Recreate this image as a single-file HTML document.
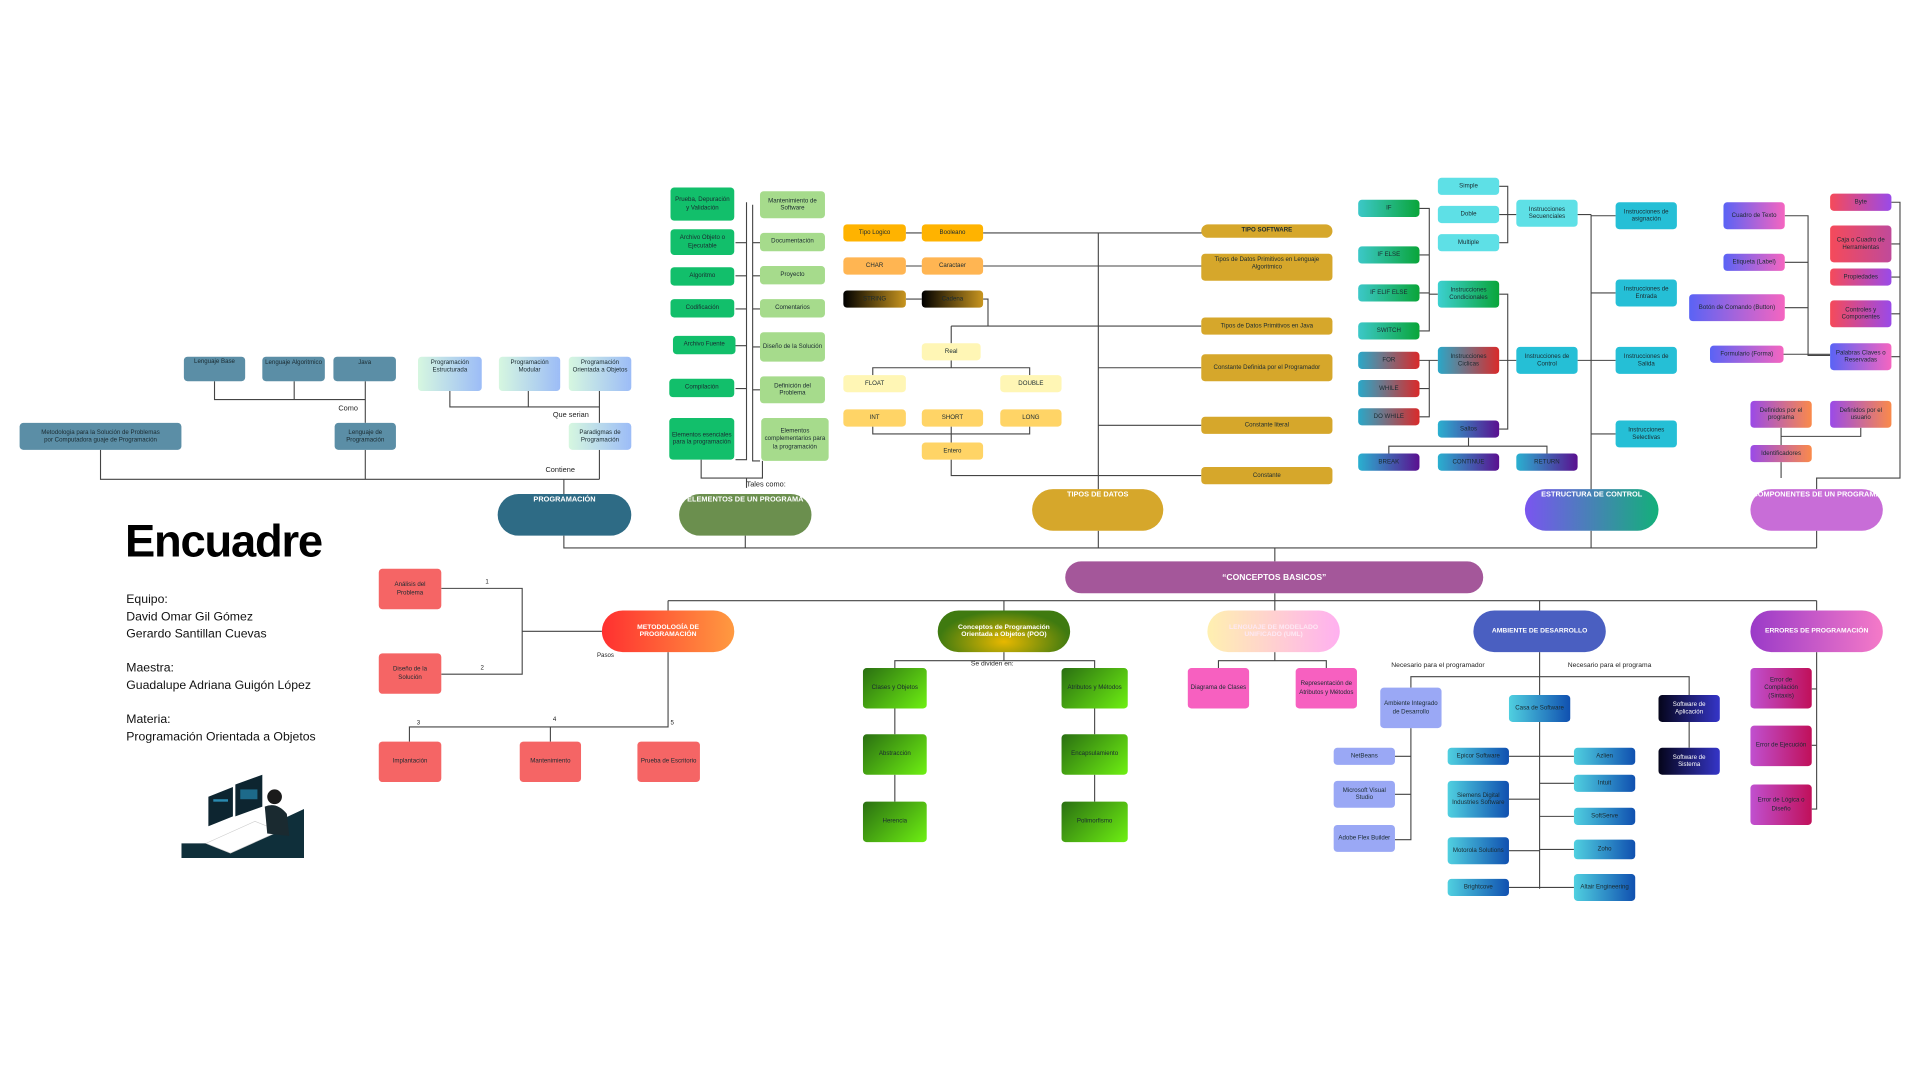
<!DOCTYPE html>
<html><head><meta charset="utf-8"><style>
html,body{margin:0;padding:0;background:#fff;width:1920px;height:1080px;overflow:hidden}
#w{position:absolute;left:0;top:0;width:1560px;height:878px;transform:scale(1.2258);transform-origin:0 0;font-family:"Liberation Sans",sans-serif}
svg{position:absolute;left:0;top:0}
.b{position:absolute;border-radius:3px;display:flex;align-items:center;justify-content:center;text-align:center;font-size:5px;line-height:1.25;color:#1a2a30;box-sizing:border-box;padding:1px 2px}
.t{align-items:flex-start;padding-top:2px}
.big{position:absolute;border-radius:17px;color:#fff;font-weight:bold;font-size:6px;text-align:center;display:flex;justify-content:center;align-items:flex-start;padding-top:2px;box-sizing:border-box}
.l{position:absolute;font-size:6px;color:#222;white-space:nowrap}
.pb{background:#5b8ea6}
.pg{background:linear-gradient(90deg,#d6f7e0,#9cbcf7)}
.dg{background:#12bf6b}
.lg{background:#a6db8c}
.gold{background:#d6a72b}
.cy{background:#5ee0e6}
.ct{background:#25bfd6}
.gg{background:linear-gradient(135deg,#2a6f12,#6ef012)}
.rd{background:#f56565}
</style></head><body><div id="w">
<svg width="1560" height="878" viewBox="0 0 1560 878" fill="none" stroke="#444" stroke-width="0.9">
<path d="M175 311V326H298M240 311V326M298 311V345"/>
<path d="M367 319V332H489M431 319V332M489 319V345"/>
<path d="M82 367V391H489M298 367V391M489 367V391M460 391V403"/>
<path d="M460 437V447H1482M608 437V447M896 433V447M1298 433V447M1482 433V447M1040 447V458"/>
<path d="M609 165V375H600M609 198H600M609 225H600M609 252H600M609 282H600M609 317H600"/>
<path d="M614 167V376H620M614 198H620M614 225H620M614 252H620M614 283H620M614 318H620"/>
<path d="M572 375V390H622V376M609 390V398"/>
<path d="M739 190H752M739 217H752M739 244H752M802 190H1000M802 217H1000M802 244H806V266H980M896 190V400M776 266H896M776 266V280M776 294V300H712V306M776 300H840V306M712 348V354H840V348M776 348V361M776 375V388H980M896 300H980M896 347H980"/>
<path d="M1158 170H1166V270H1158M1158 208H1166M1158 239H1166M1166 240H1173M1158 294H1166V340H1158M1158 317H1166M1166 294H1173M1223 152H1230V198H1223M1223 175H1237M1223 240H1230V350H1223M1223 294H1237M1287 175H1298M1287 294H1298M1298 175V400M1298 176H1318M1298 239H1318M1298 294H1318M1298 354H1318M1198 357V364H1133V370M1198 364H1262V370"/>
<path d="M1456 176H1475V290H1493M1456 214H1475M1456 251H1475M1455 289H1493M1543 165H1550V390H1482V399M1543 199H1550M1543 226H1550M1543 256H1550M1543 291H1550M1453 349V356H1518V349M1453 356V363M1453 377V390"/>
<path d="M1040 484V490M545 490H1482M545 490V498M819 490V498M1040 490V498M1256 490V498M1482 490V498"/>
<path d="M360 480H426V550H360M426 515H491M545 532V593H334V605M449 593V605"/>
<path d="M819 532V539H730V545M819 539H893V545M730 578V599M730 632V654M893 578V599M893 632V654"/>
<path d="M1040 532V539H994V545M1040 539H1082V545"/>
<path d="M1256 532V725M1151 561V552H1378V567M1151 594V685H1138M1151 617H1138M1151 648H1138M1231 617H1256M1231 652H1256M1231 694H1256M1231 724H1256M1256 617H1284M1256 639H1284M1256 666H1284M1256 693H1284M1256 724H1284M1378 589V610"/>
<path d="M1482 532V660H1478M1482 562H1478M1482 608H1478"/>
</svg>

<div class="b pb" style="left:150px;top:291px;width:50px;height:20px;align-items:flex-start">Lenguaje Base</div>
<div class="b pb t" style="left:214px;top:291px;width:51px;height:20px">Lenguaje Algoritmico</div>
<div class="b pb t" style="left:272px;top:291px;width:51px;height:20px">Java</div>
<div class="b pb" style="left:273px;top:345px;width:50px;height:22px">Lenguaje de Programación</div>
<div class="b pb" style="left:16px;top:345px;width:132px;height:22px">Metodologia para la Solución de Problemas<br>por Computadora guaje de Programación</div>
<div class="b pg t" style="left:341px;top:291px;width:52px;height:28px">Programación Estructurada</div>
<div class="b pg t" style="left:407px;top:291px;width:50px;height:28px">Programación Modular</div>
<div class="b pg t" style="left:464px;top:291px;width:51px;height:28px">Programación Orientada a Objetos</div>
<div class="b pg" style="left:464px;top:345px;width:51px;height:22px">Paradigmas de Programación</div>
<div class="l" style="left:276px;top:331px">Como</div>
<div class="l" style="left:451px;top:336px">Que serian</div>
<div class="l" style="left:445px;top:381px">Contiene</div>
<div class="big" style="left:406px;top:403px;width:109px;height:34px;background:#2e6b85">PROGRAMACIÓN</div>

<div class="b dg" style="left:547px;top:153px;width:52px;height:27px">Prueba, Depuración y Validación</div>
<div class="b dg" style="left:547px;top:187px;width:52px;height:21px">Archivo Objeto o Ejecutable</div>
<div class="b dg" style="left:547px;top:218px;width:52px;height:15px">Algoritmo</div>
<div class="b dg" style="left:547px;top:244px;width:52px;height:15px">Codificación</div>
<div class="b dg" style="left:549px;top:274px;width:51px;height:15px">Archivo Fuente</div>
<div class="b dg" style="left:546px;top:309px;width:53px;height:15px">Compilación</div>
<div class="b dg" style="left:546px;top:341px;width:53px;height:34px">Elementos esenciales para la programación</div>
<div class="b lg" style="left:620px;top:156px;width:53px;height:22px">Mantenimiento de Software</div>
<div class="b lg" style="left:620px;top:190px;width:53px;height:15px">Documentación</div>
<div class="b lg" style="left:620px;top:217px;width:53px;height:15px">Proyecto</div>
<div class="b lg" style="left:620px;top:244px;width:53px;height:15px">Comentarios</div>
<div class="b lg" style="left:620px;top:271px;width:53px;height:24px">Diseño de la Solución</div>
<div class="b lg" style="left:620px;top:307px;width:53px;height:22px">Definición del Problema</div>
<div class="b lg" style="left:621px;top:341px;width:55px;height:35px">Elementos complementarios para la programación</div>
<div class="l" style="left:609px;top:393px">Tales como:</div>
<div class="big" style="left:554px;top:403px;width:108px;height:34px;background:#6b8f4e">ELEMENTOS DE UN PROGRAMA</div>

<div class="b" style="left:688px;top:183px;width:51px;height:14px;background:#ffb300">Tipo Logico</div>
<div class="b" style="left:752px;top:183px;width:50px;height:14px;background:#ffb300">Booleano</div>
<div class="b" style="left:688px;top:210px;width:51px;height:14px;background:#ffb552">CHAR</div>
<div class="b" style="left:752px;top:210px;width:50px;height:14px;background:#ffb552">Caractaer</div>
<div class="b" style="left:688px;top:237px;width:51px;height:14px;background:linear-gradient(90deg,#000,#c8951f)">STRING</div>
<div class="b" style="left:752px;top:237px;width:50px;height:14px;background:linear-gradient(90deg,#000,#c8951f)">Cadena</div>
<div class="b" style="left:752px;top:280px;width:48px;height:14px;background:#fff6b5">Real</div>
<div class="b" style="left:688px;top:306px;width:51px;height:14px;background:#fff6b5">FLOAT</div>
<div class="b" style="left:816px;top:306px;width:50px;height:14px;background:#fff6b5">DOUBLE</div>
<div class="b" style="left:688px;top:334px;width:51px;height:14px;background:#ffd466">INT</div>
<div class="b" style="left:752px;top:334px;width:50px;height:14px;background:#ffd466">SHORT</div>
<div class="b" style="left:816px;top:334px;width:50px;height:14px;background:#ffd466">LONG</div>
<div class="b" style="left:752px;top:361px;width:50px;height:14px;background:#ffd466">Entero</div>
<div class="b gold" style="left:980px;top:183px;width:107px;height:11px;border-radius:6px;font-weight:bold">TIPO SOFTWARE</div>
<div class="b gold t" style="left:980px;top:207px;width:107px;height:22px">Tipos de Datos Primitivos en Lenguaje Algoritmico</div>
<div class="b gold" style="left:980px;top:259px;width:107px;height:14px">Tipos de Datos Primitivos en Java</div>
<div class="b gold" style="left:980px;top:289px;width:107px;height:22px">Constante Definida por el Programador</div>
<div class="b gold" style="left:980px;top:340px;width:107px;height:14px">Constante literal</div>
<div class="b gold" style="left:980px;top:381px;width:107px;height:14px">Constante</div>
<div class="big" style="left:842px;top:399px;width:107px;height:34px;background:#d6a72b">TIPOS DE DATOS</div>

<div class="b" style="left:1108px;top:163px;width:50px;height:14px;background:linear-gradient(90deg,#3cc8c8,#0aa53a)">IF</div>
<div class="b" style="left:1108px;top:201px;width:50px;height:14px;background:linear-gradient(90deg,#3cc8c8,#0aa53a)">IF ELSE</div>
<div class="b" style="left:1108px;top:232px;width:50px;height:14px;background:linear-gradient(90deg,#3cc8c8,#0aa53a)">IF ELIF ELSE</div>
<div class="b" style="left:1108px;top:263px;width:50px;height:14px;background:linear-gradient(90deg,#3cc8c8,#0aa53a)">SWITCH</div>
<div class="b" style="left:1108px;top:287px;width:50px;height:14px;background:linear-gradient(90deg,#2aa8c8,#d92a2a)">FOR</div>
<div class="b" style="left:1108px;top:310px;width:50px;height:14px;background:linear-gradient(90deg,#2aa8c8,#d92a2a)">WHILE</div>
<div class="b" style="left:1108px;top:333px;width:50px;height:14px;background:linear-gradient(90deg,#2aa8c8,#d92a2a)">DO WHILE</div>
<div class="b" style="left:1108px;top:370px;width:50px;height:14px;background:linear-gradient(90deg,#2ab0d0,#5a1090)">BREAK</div>
<div class="b" style="left:1173px;top:370px;width:50px;height:14px;background:linear-gradient(90deg,#2ab0d0,#5a1090)">CONTINUE</div>
<div class="b" style="left:1237px;top:370px;width:50px;height:14px;background:linear-gradient(90deg,#2ab0d0,#5a1090)">RETURN</div>
<div class="b cy" style="left:1173px;top:145px;width:50px;height:14px">Simple</div>
<div class="b cy" style="left:1173px;top:168px;width:50px;height:14px">Doble</div>
<div class="b cy" style="left:1173px;top:191px;width:50px;height:14px">Multiple</div>
<div class="b cy" style="left:1237px;top:163px;width:50px;height:22px">Instrucciones Secuenciales</div>
<div class="b" style="left:1173px;top:229px;width:50px;height:22px;background:linear-gradient(90deg,#3cd0d0,#0aa53a)">Instrucciones Condicionales</div>
<div class="b" style="left:1173px;top:283px;width:50px;height:22px;background:linear-gradient(90deg,#2aa8c8,#d92a2a)">Instrucciones Ciclicas</div>
<div class="b" style="left:1173px;top:343px;width:50px;height:14px;background:linear-gradient(90deg,#2ab0d0,#5a1090)">Saltos</div>
<div class="b ct" style="left:1237px;top:283px;width:50px;height:22px">Instrucciones de Control</div>
<div class="b ct" style="left:1318px;top:165px;width:50px;height:22px">Instrucciones de asignación</div>
<div class="b ct" style="left:1318px;top:228px;width:50px;height:22px">Instrucciones de Entrada</div>
<div class="b ct" style="left:1318px;top:283px;width:50px;height:22px">Instrucciones de Salida</div>
<div class="b ct" style="left:1318px;top:343px;width:50px;height:22px">Instrucciones Selectivas</div>
<div class="big" style="left:1244px;top:399px;width:109px;height:34px;background:linear-gradient(90deg,#7a55f0,#13b07a)">ESTRUCTURA DE CONTROL</div>

<div class="b" style="left:1406px;top:165px;width:50px;height:22px;background:linear-gradient(90deg,#5a63f5,#f565c0)">Cuadro de Texto</div>
<div class="b" style="left:1406px;top:207px;width:50px;height:14px;background:linear-gradient(90deg,#5a63f5,#f565c0)">Etiqueta (Label)</div>
<div class="b" style="left:1378px;top:240px;width:78px;height:22px;background:linear-gradient(90deg,#5a63f5,#f565c0)">Botón de Comando (Button)</div>
<div class="b" style="left:1395px;top:282px;width:60px;height:14px;background:linear-gradient(90deg,#5a63f5,#f565c0)">Formulario (Forma)</div>
<div class="b" style="left:1493px;top:158px;width:50px;height:14px;background:linear-gradient(90deg,#f54a5a,#9a4ae8)">Byte</div>
<div class="b" style="left:1493px;top:184px;width:50px;height:30px;background:linear-gradient(90deg,#f54a5a,#c04a9a)">Caja o Cuadro de Herramientas</div>
<div class="b" style="left:1493px;top:219px;width:50px;height:14px;background:linear-gradient(90deg,#f54a5a,#9a4ae8)">Propiedades</div>
<div class="b" style="left:1493px;top:245px;width:50px;height:22px;background:linear-gradient(90deg,#f54a5a,#9a4ae8)">Controles y Componentes</div>
<div class="b" style="left:1493px;top:280px;width:50px;height:22px;background:linear-gradient(90deg,#5a63f5,#f565c0)">Palabras Claves o Reservadas</div>
<div class="b" style="left:1428px;top:327px;width:50px;height:22px;background:linear-gradient(90deg,#9a4ae8,#fa8a4a)">Definidos por el programa</div>
<div class="b" style="left:1493px;top:327px;width:50px;height:22px;background:linear-gradient(90deg,#9a4ae8,#fa8a4a)">Definidos por el usuario</div>
<div class="b" style="left:1428px;top:363px;width:50px;height:14px;background:linear-gradient(90deg,#9a4ae8,#fa8a4a)">Identificadores</div>
<div class="big" style="left:1428px;top:399px;width:108px;height:34px;background:#c86dd7">COMPONENTES DE UN PROGRAMA</div>

<div class="big" style="left:869px;top:458px;width:341px;height:26px;background:#a4579a;align-items:center;padding:0;font-size:7px">“CONCEPTOS BASICOS”</div>

<div class="big" style="left:491px;top:498px;width:108px;height:34px;background:linear-gradient(90deg,#ff3030,#ff9a40);align-items:center;padding:0;font-size:5.5px">METODOLOGÍA DE<br>PROGRAMACIÓN</div>
<div class="b rd" style="left:309px;top:464px;width:51px;height:33px">Análisis del Problema</div>
<div class="b rd" style="left:309px;top:533px;width:51px;height:33px">Diseño de la Solución</div>
<div class="b rd" style="left:309px;top:605px;width:51px;height:33px">Implantación</div>
<div class="b rd" style="left:424px;top:605px;width:50px;height:33px">Mantenimiento</div>
<div class="b rd" style="left:520px;top:605px;width:51px;height:33px">Prueba de Escritorio</div>
<div class="l" style="left:396px;top:472px;font-size:5px">1</div>
<div class="l" style="left:392px;top:542px;font-size:5px">2</div>
<div class="l" style="left:340px;top:587px;font-size:5px">3</div>
<div class="l" style="left:451px;top:584px;font-size:5px">4</div>
<div class="l" style="left:547px;top:587px;font-size:5px">5</div>
<div class="l" style="left:487px;top:532px;font-size:5px">Pasos</div>

<div class="big" style="left:765px;top:498px;width:108px;height:34px;background:radial-gradient(ellipse at 50% 75%,#e8b800,#3f7a10 70%);align-items:center;padding:0;font-size:5.5px">Conceptos de Programación<br>Orientada a Objetos (POO)</div>
<div class="l" style="left:792px;top:539px;font-size:5.5px">Se dividen en:</div>
<div class="b gg" style="left:704px;top:545px;width:52px;height:33px">Clases y Objetos</div>
<div class="b gg" style="left:704px;top:599px;width:52px;height:33px">Abstracción</div>
<div class="b gg" style="left:704px;top:654px;width:52px;height:33px">Herencia</div>
<div class="b gg" style="left:866px;top:545px;width:54px;height:33px">Atributos y Métodos</div>
<div class="b gg" style="left:866px;top:599px;width:54px;height:33px">Encapsulamiento</div>
<div class="b gg" style="left:866px;top:654px;width:54px;height:33px">Polimorfismo</div>

<div class="big" style="left:985px;top:498px;width:108px;height:34px;background:linear-gradient(90deg,#fff0b0,#ffb0f0);align-items:center;padding:0;font-size:5.5px;color:#fde8f4">LENGUAJE DE MODELADO<br>UNIFICADO (UML)</div>
<div class="b" style="left:969px;top:545px;width:50px;height:33px;background:#f760c0">Diagrama de Clases</div>
<div class="b" style="left:1057px;top:545px;width:50px;height:33px;background:#f760c0">Representación de Atributos y Métodos</div>

<div class="big" style="left:1202px;top:498px;width:108px;height:34px;background:#4a5fc1;align-items:center;padding:0;font-size:5.5px">AMBIENTE DE DESARROLLO</div>
<div class="l" style="left:1135px;top:540px;font-size:5.5px">Necesario para el programador</div>
<div class="l" style="left:1279px;top:540px;font-size:5.5px">Necesario para el programa</div>
<div class="b" style="left:1126px;top:561px;width:50px;height:33px;background:#9aa8f5">Ambiente Integrado de Desarrollo</div>
<div class="b" style="left:1088px;top:610px;width:50px;height:14px;background:#9aa8f5">NetBeans</div>
<div class="b" style="left:1088px;top:637px;width:50px;height:22px;background:#9aa8f5">Microsoft Visual Studio</div>
<div class="b" style="left:1088px;top:673px;width:50px;height:22px;background:#9aa8f5">Adobe Flex Builder</div>
<div class="b" style="left:1231px;top:567px;width:50px;height:22px;background:linear-gradient(90deg,#50d0e0,#1050b0)">Casa de Software</div>
<div class="b" style="left:1181px;top:610px;width:50px;height:14px;background:linear-gradient(90deg,#50d0e0,#1050b0)">Epicor Software</div>
<div class="b" style="left:1181px;top:637px;width:50px;height:30px;background:linear-gradient(90deg,#50d0e0,#1050b0)">Siemens Digital Industries Software</div>
<div class="b" style="left:1181px;top:683px;width:50px;height:22px;background:linear-gradient(90deg,#50d0e0,#1050b0)">Motorola Solutions</div>
<div class="b" style="left:1181px;top:717px;width:50px;height:14px;background:linear-gradient(90deg,#50d0e0,#1050b0)">Brightcove</div>
<div class="b" style="left:1284px;top:610px;width:50px;height:14px;background:linear-gradient(90deg,#50d0e0,#1050b0)">Azlien</div>
<div class="b" style="left:1284px;top:632px;width:50px;height:14px;background:linear-gradient(90deg,#50d0e0,#1050b0)">Intuit</div>
<div class="b" style="left:1284px;top:659px;width:50px;height:14px;background:linear-gradient(90deg,#50d0e0,#1050b0)">SoftServe</div>
<div class="b" style="left:1284px;top:685px;width:50px;height:16px;background:linear-gradient(90deg,#50d0e0,#1050b0)">Zoho</div>
<div class="b" style="left:1284px;top:713px;width:50px;height:22px;background:linear-gradient(90deg,#50d0e0,#1050b0)">Altair Engineering</div>
<div class="b" style="left:1353px;top:567px;width:50px;height:22px;background:linear-gradient(90deg,#05051a,#3535c8);color:#fff">Software de Aplicación</div>
<div class="b" style="left:1353px;top:610px;width:50px;height:22px;background:linear-gradient(90deg,#05051a,#3535c8);color:#fff">Software de Sistema</div>

<div class="big" style="left:1428px;top:498px;width:108px;height:34px;background:linear-gradient(90deg,#9a3ac8,#f57ac8);align-items:center;padding:0;font-size:5.5px">ERRORES DE PROGRAMACIÓN</div>
<div class="b" style="left:1428px;top:545px;width:50px;height:33px;background:linear-gradient(90deg,#c050d0,#c0105a)">Error de Compilación (Sintaxis)</div>
<div class="b" style="left:1428px;top:592px;width:50px;height:33px;background:linear-gradient(90deg,#c050d0,#c0105a)">Error de Ejecución</div>
<div class="b" style="left:1428px;top:640px;width:50px;height:33px;background:linear-gradient(90deg,#c050d0,#c0105a)">Error de Lógica o Diseño</div>

<div style="position:absolute;left:102px;top:421px;font-size:37px;font-weight:bold;color:#000;letter-spacing:-1px">Encuadre</div>
<div style="position:absolute;left:103px;top:483px;font-size:10px;line-height:14px;color:#111">Equipo:<br>David Omar Gil Gómez<br>Gerardo Santillan Cuevas<br><br>Maestra:<br>Guadalupe Adriana Guigón López<br><br>Materia:<br>Programación Orientada a Objetos</div>
<svg style="left:148px;top:630px" width="100" height="70" viewBox="0 0 100 70">
<polygon points="0,70 100,70 100,30 40,58 0,58" fill="#0f2f3a"/>
<polygon points="20,58 60,40 80,48 40,66" fill="#fff" stroke="#ccc" stroke-width="0.5"/>
<polygon points="22,20 42,12 42,36 22,44" fill="#0d2530"/>
<polygon points="44,10 66,2 66,28 44,36" fill="#0d2530"/>
<rect x="26" y="22" width="12" height="2" fill="#2a8ab0"/><rect x="48" y="14" width="14" height="8" fill="#1d6a8a"/>
<circle cx="76" cy="20" r="6" fill="#1a1a1a"/>
<path d="M68 28 Q78 24 86 34 L88 52 L70 50 Z" fill="#1a2a30"/>
</svg>
</div></body></html>
